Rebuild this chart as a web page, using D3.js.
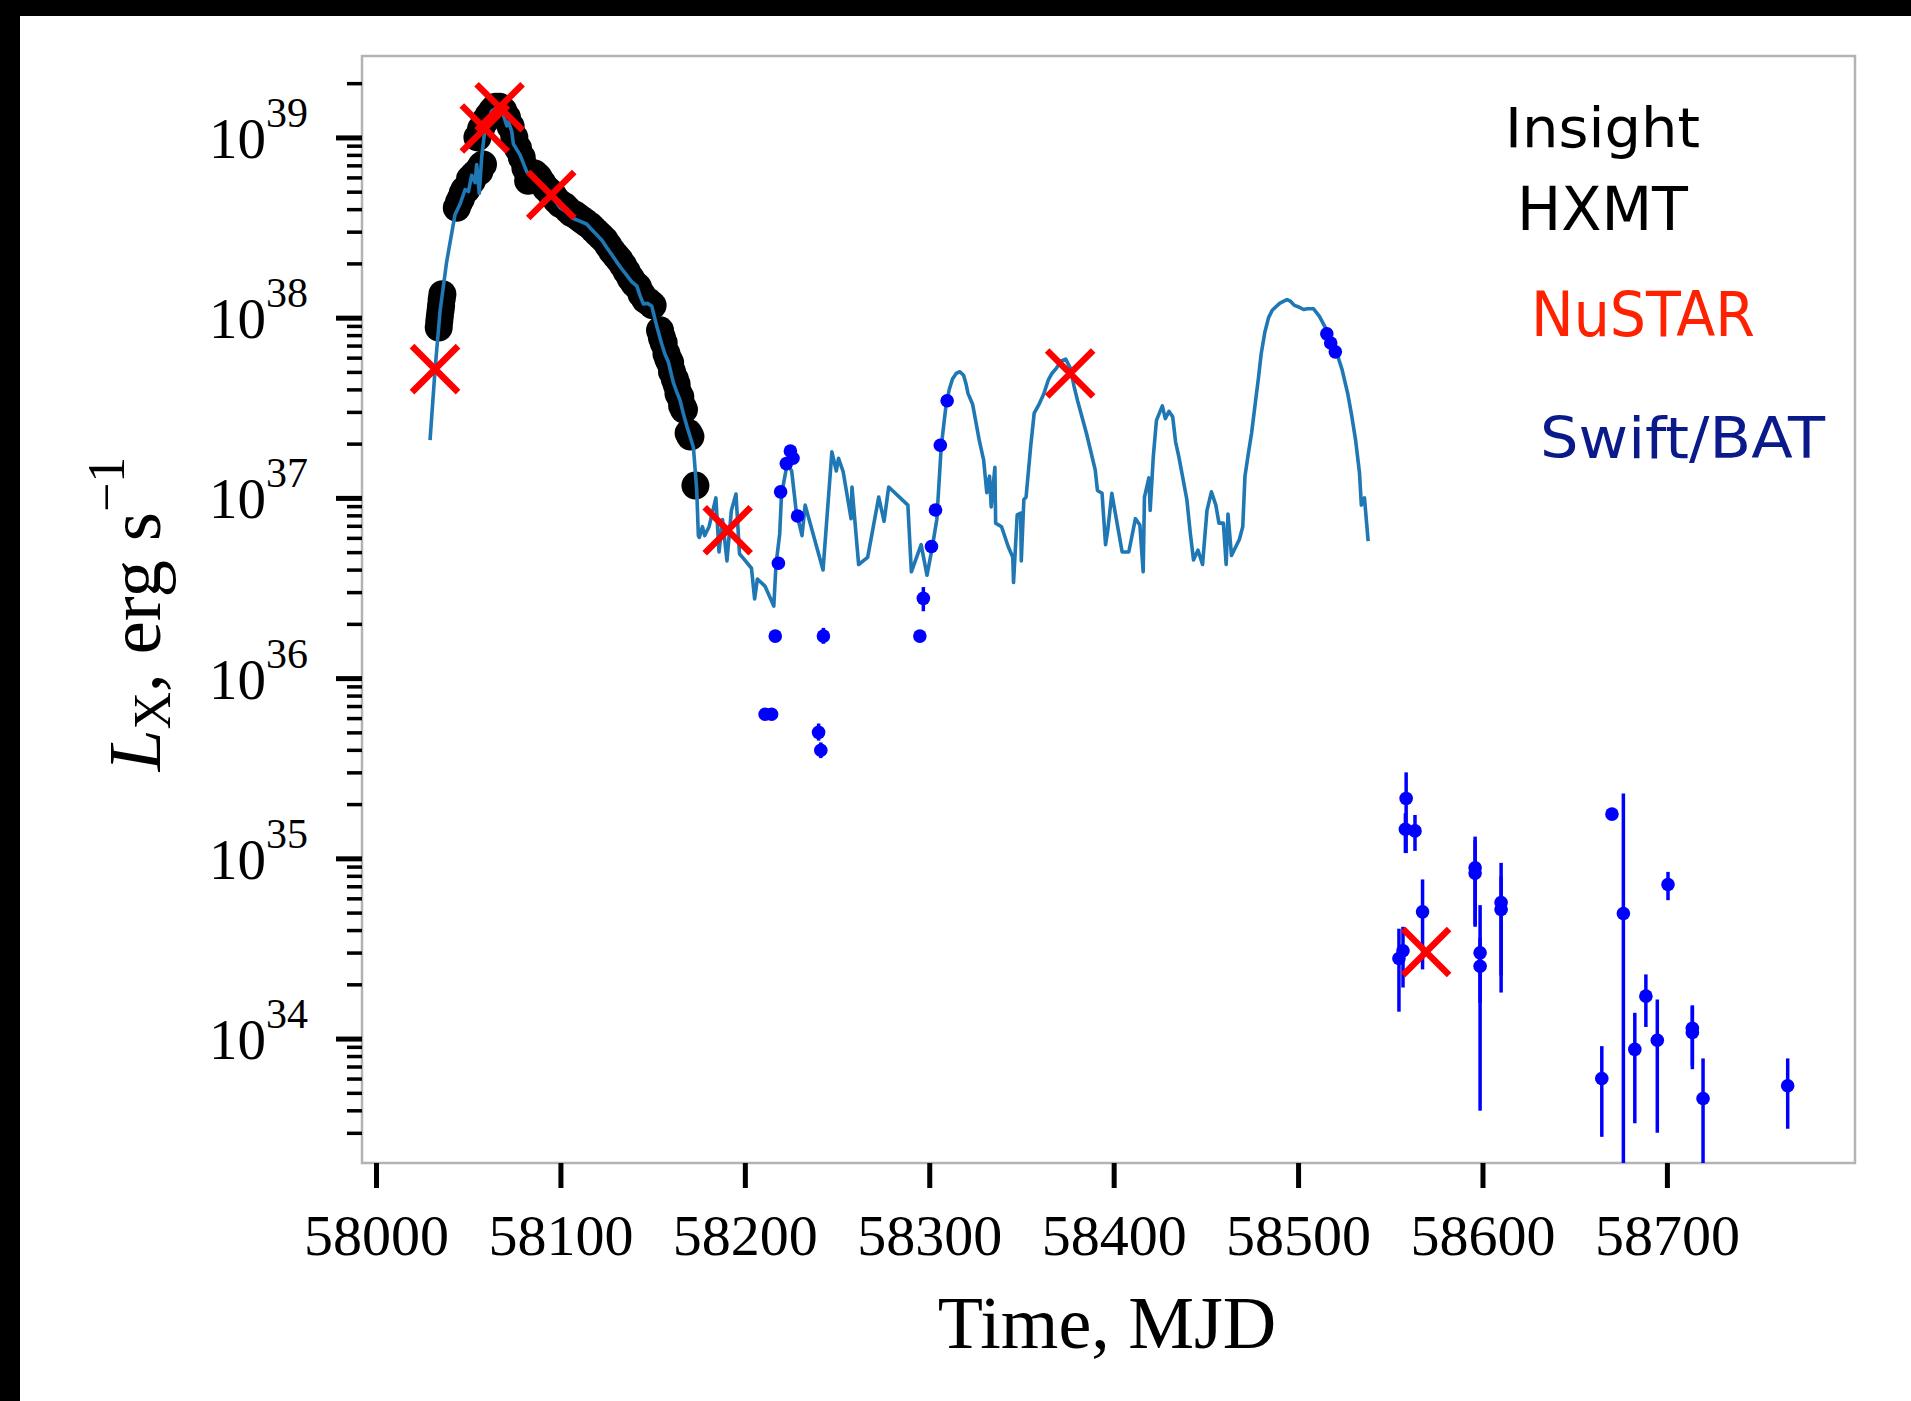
<!DOCTYPE html>
<html><head><meta charset="utf-8">
<script src="https://cdn.jsdelivr.net/npm/d3@7"></script>
<style>html,body{margin:0;padding:0;background:#fff;} svg{display:block;}</style>
</head><body><svg id="c" width="1911" height="1401"></svg>
<script>
// ---------------- DATA ----------------
const xTickValues = [58000, 58100, 58200, 58300, 58400, 58500, 58600, 58700];
const xTickLabels = ["58000", "58100", "58200", "58300", "58400", "58500", "58600", "58700"];
const yMajorTicks = [1e34, 1e35, 1e36, 1e37, 1e38, 1e39];
const yTickBase = "10";
const yTickExponents = ["34", "35", "36", "37", "38", "39"];

// light curve (blue line)
const lineMJD = [58029.3,58032.0,58034.7,58038.3,58042.8,58045.6,58048.3,58050.1,58051.9,58053.7,
58054.6,58056.0,58057.3,58059.1,58062.7,58065.4,58069.1,58070.9,58071.8,58073.6,
58074.5,58078.1,58081.7,58084.4,58088.9,58094.4,58099.8,58103.5,58107.0,58110.5,
58114.2,58116.8,58119.7,58122.5,58125.1,58127.8,58130.5,58133.0,58135.9,58138.7,
58141.4,58143.2,58145.0,58147.2,58149.5,58152.2,58154.9,58156.6,58158.5,58161.2,
58163.0,58164.9,58166.6,58168.5,58172.1,58173.0,58173.9,58174.8,58175.3,58177.0,
58178.2,58180.6,58184.3,58186.0,58187.9,58190.3,58192.7,58195.2,58197.1,58200.0,
58203.6,58205.3,58206.8,58210.9,58215.7,58216.9,58218.9,58219.9,58223.0,58225.4,
58227.8,58231.0,58232.7,58242.4,58247.2,58249.6,58250.8,58253.3,58257.6,58258.1,
58261.7,58266.6,58272.6,58275.5,58278.0,58288.4,58290.3,58295.6,58298.8,58301.7,
58304.1,58306.5,58309.0,58310.8,58312.6,58314.6,58316.6,58318.6,58320.0,58321.0,
58323.5,58327.1,58329.5,58331.2,58332.7,58333.6,58335.6,58336.0,58339.2,58342.8,
58345.3,58345.7,58347.7,58349.6,58349.9,58351.3,58352.5,58355.0,58356.9,58359.3,
58362.2,58364.6,58366.5,58369.0,58371.5,58374.0,58376.5,58378.5,58380.4,58385.2,
58390.0,58391.2,58393.7,58395.6,58396.8,58399.0,58404.6,58408.2,58411.8,58414.2,
58416.0,58416.7,58419.1,58419.8,58421.5,58423.2,58426.4,58428.0,58430.0,58432.0,
58433.6,58435.3,58437.7,58439.7,58441.6,58443.3,58445.7,58448.2,58450.6,58453.0,
58455.4,58457.1,58459.5,58461.0,58462.0,58463.9,58468.2,58470.0,58471.2,58473.1,
58474.8,58477.2,58478.4,58480.0,58482.0,58484.0,58486.0,58488.0,58490.0,58492.0,
58494.0,58496.0,58498.0,58500.0,58503.0,58505.0,58508.4,58511.5,58515.6,58520.8,
58523.9,58527.0,58529.1,58531.2,58533.3,58534.3,58536.0,58538.0];
const lineLum = [2.09e37,5.13e37,1.08e38,2.04e38,3.72e38,4.27e38,5.13e38,5.01e38,6.17e38,5.62e38,
7.08e38,4.90e38,7.76e38,1.12e39,1.40e39,1.46e39,1.33e39,1.16e39,1.22e39,1.08e39,
9.2e38,8.0e38,6.46e38,6.17e38,5.62e38,4.90e38,4.07e38,3.85e38,3.55e38,3.43e38,
3.31e38,3.09e38,2.88e38,2.69e38,2.45e38,2.24e38,2.04e38,1.88e38,1.72e38,1.58e38,
1.50e38,1.32e38,1.19e38,1.20e38,1.16e38,9.0e37,7.16e37,6.31e37,5.69e37,4.37e37,
3.89e37,3.47e37,2.95e37,2.51e37,1.91e37,1.46e37,1.11e37,6.17e36,6.03e36,6.92e36,
6.17e36,6.92e36,1.0e37,5.01e36,7.59e36,4.47e36,8.51e36,1.05e37,4.90e36,4.52e36,
4.07e36,2.75e36,3.55e36,3.24e36,2.51e36,4.27e36,6.31e36,1.05e37,1.55e37,1.41e37,
8.51e36,6.17e36,9.12e36,3.98e36,1.80e37,1.41e37,1.66e37,1.40e37,7.67e36,1.15e37,
4.27e36,4.68e36,1.01e37,7.41e36,1.15e37,9.12e36,3.89e36,5.50e36,3.72e36,5.37e36,
7.59e36,1.93e37,3.20e37,3.98e37,4.57e37,4.90e37,5.01e37,4.79e37,4.27e37,3.80e37,
3.31e37,2.09e37,1.62e37,1.07e37,1.32e37,8.91e36,1.48e37,7.24e36,6.92e36,5.37e36,
4.68e36,3.39e36,8.04e36,8.22e36,4.47e36,9.77e36,1.01e37,1.93e37,2.95e37,3.27e37,
3.80e37,4.52e37,4.90e37,5.25e37,5.75e37,5.89e37,5.25e37,4.17e37,3.47e37,2.29e37,
1.43e37,1.10e37,1.06e37,5.50e36,6.61e36,1.06e37,5.01e36,5.01e36,7.67e36,7.08e36,
3.89e36,1.01e37,1.29e37,8.51e36,1.70e37,2.69e37,3.24e37,2.75e37,3.02e37,2.82e37,
2.04e37,1.70e37,1.26e37,9.77e36,6.31e36,4.52e36,5.13e36,4.27e36,8.51e36,1.08e37,
9.12e36,7.24e36,7.24e36,4.27e36,8.13e36,4.79e36,5.89e36,6.92e36,1.32e37,1.78e37,
2.29e37,3.63e37,4.52e37,6.31e37,8.32e37,1.0e38,1.10e38,1.15e38,1.20e38,1.23e38,
1.26e38,1.23e38,1.17e38,1.15e38,1.11e38,1.12e38,1.12e38,1.02e38,8.51e37,6.46e37,
5.13e37,3.76e37,2.85e37,2.09e37,1.38e37,9.12e36,1.0e37,5.75e36];

// Insight-HXMT (black circles)
const insightMJD = [58034.0,58034.3,58034.6,58035.0,58035.3,58035.6,58036.0,
58043.8,58045,58046,58047,58048,58049,58050,58051,58052,58053,58054,58055,58056,58057,58058,
58055,58057,58059,58061,58063,58065,58067,58069,58071,58073,58075,58077,58079,58081,58082.5,58084,
58086,58088,58090,58092,58094,58096,58098,58100,58102,58104,58106,58108,58110,58112,58114,58116,
58118,58120,58122,58124,58126,58128,58130,58132,58134,58136,58138,58140,58142,58144,58146,58148,58150,
58154,58155,58156,58157.5,58158.5,58159.5,58160.5,58162,58163,58164,58165,58166,58167,58169.5,58170.5,58173.2];
const insightLum = [8.81e37,9.55e37,1.02e38,1.10e38,1.17e38,1.26e38,1.35e38,
4.07e38,4.37e38,4.57e38,4.90e38,5.13e38,5.13e38,5.37e38,5.89e38,5.75e38,6.17e38,6.31e38,6.46e38,6.46e38,6.92e38,7.08e38,
1.0e39,1.12e39,1.23e39,1.32e39,1.41e39,1.48e39,1.48e39,1.41e39,1.29e39,1.15e39,1.0e39,8.71e38,7.76e38,6.76e38,5.75e38,6.17e38,
6.31e38,6.03e38,5.62e38,5.25e38,5.01e38,4.79e38,4.47e38,4.27e38,4.17e38,3.98e38,3.80e38,3.72e38,3.59e38,3.47e38,3.35e38,3.24e38,
3.09e38,2.95e38,2.82e38,2.69e38,2.51e38,2.34e38,2.21e38,2.09e38,1.95e38,1.80e38,1.66e38,1.55e38,1.48e38,1.35e38,1.26e38,1.22e38,1.17e38,
8.51e37,7.76e37,7.24e37,6.31e37,5.89e37,5.62e37,5.01e37,4.57e37,4.27e37,3.80e37,3.63e37,3.24e37,3.09e37,2.29e37,2.19e37,1.17e37];

// NuSTAR (red crosses)
const nustarMJD = [58032.0, 58059.0, 58067.0, 58095.0, 58190.7, 58376.4, 58569.4];
const nustarLum = [5.18e37, 1.12e39, 1.47e39, 4.79e38, 6.61e36, 4.9e37, 3.02e34];

// Swift/BAT (blue points with error bars)
const batMJD = [58211.0,58214.5,58216.5,58218.2,58219.4,58222.5,58224.7,58226.1,58228.6,
58240.0,58241.2,58242.6,58294.9,58296.8,58301.2,58303.4,58306.0,58309.7,
58515.6,58517.7,58520.2,
58554.7,58556.9,58558.6,58558.2,58563.4,58567.5,58596.0,58596.0,58598.7,58598.7,58610.1,58610.1,
58664.7,58670.2,58676.4,58682.6,58688.6,58694.8,58700.6,58713.8,58713.8,58719.6,58765.5];
const batLum = [6.3e35,6.3e35,1.71e36,4.34e36,1.08e37,1.55e37,1.82e37,1.66e37,7.94e36,
5.0e35,3.98e35,1.71e36,1.71e36,2.77e36,5.37e36,8.57e36,1.96e37,3.46e37,
8.13e37,7.24e37,6.46e37,
2.78e34,3.07e34,2.15e35,1.45e35,1.42e35,5.05e34,8.87e34,8.28e34,2.99e34,2.52e34,5.69e34,5.2e34,
6.0e33,1.76e35,4.94e34,8.71e33,1.72e34,9.79e33,7.16e34,1.14e34,1.08e34,4.65e33,5.47e33];
const batLo = [6.0e35,6.0e35,1.6e36,4.2e36,1.05e37,1.5e37,1.77e37,1.61e37,7.7e36,
4.5e35,3.6e35,1.55e36,1.6e36,2.35e36,5.2e36,8.3e36,1.9e37,3.36e37,
7.9e37,7.0e37,6.3e37,
1.41e34,1.92e34,1.07e35,1.07e35,1.10e35,2.42e34,4.27e34,4.17e34,3.98e33,1.58e34,1.80e34,2.24e34,
2.85e33,1.70e35,1.0e33,3.39e33,1.16e34,3.0e33,5.86e34,6.76e33,7.08e33,1.0e33,3.16e33];
const batHi = [6.6e35,6.6e35,1.82e36,4.5e36,1.11e37,1.6e37,1.87e37,1.71e37,8.2e36,
5.6e35,4.4e35,1.9e36,1.82e36,3.2e36,5.55e36,8.85e36,2.02e37,3.56e37,
8.4e37,7.5e37,6.6e37,
4.07e34,4.17e34,3.0e35,1.78e35,1.74e35,7.64e34,1.32e35,1.26e35,5.5e34,3.63e34,9.44e34,7.94e34,
9.08e33,1.82e35,2.29e35,1.39e34,2.27e34,1.65e34,8.41e34,1.53e34,1.51e34,7.76e33,7.76e33];

const legendLabels = ["Insight", "HXMT", "NuSTAR", "Swift/BAT"];
const legendColors = ["#000000", "#000000", "#ff2200", "#0a1a8a"];

// ---------------- LAYOUT ----------------
const W = 1911, H = 1401;
const plot = {left: 362, right: 1855, top: 56, bottom: 1163};
const svg = d3.select("#c");

svg.append("rect").attr("x", 0).attr("y", 0).attr("width", W).attr("height", H).attr("fill", "#fff");
svg.append("rect").attr("x", 0).attr("y", 0).attr("width", W).attr("height", 16).attr("fill", "#000");
svg.append("rect").attr("x", 0).attr("y", 0).attr("width", 20).attr("height", H).attr("fill", "#000");

const x = d3.scaleLinear().domain([57992.4, 58802]).range([plot.left, plot.right]);
const y = d3.scaleLog().domain([2.04e33, 2.83e39]).range([plot.bottom, plot.top]);

svg.append("defs").append("clipPath").attr("id", "clip")
  .append("rect").attr("x", plot.left).attr("y", plot.top)
  .attr("width", plot.right - plot.left).attr("height", plot.bottom - plot.top);

// spines
svg.append("rect").attr("x", plot.left).attr("y", plot.top)
  .attr("width", plot.right - plot.left).attr("height", plot.bottom - plot.top)
  .attr("fill", "none").attr("stroke", "#b3b3b3").attr("stroke-width", 2.5);

const serif = "'Liberation Serif', 'Times New Roman', serif";

// y minor ticks
const yMinor = [];
for (let e = 33; e <= 39; e++) for (let m = 2; m <= 9; m++) {
  const v = m * Math.pow(10, e);
  if (v >= y.domain()[0] && v <= y.domain()[1]) yMinor.push(v);
}
const gyMinor = svg.append("g").attr("transform", `translate(${plot.left},0)`)
  .call(d3.axisLeft(y).tickValues(yMinor).tickSize(15).tickFormat(() => ""));
gyMinor.select(".domain").remove();
gyMinor.selectAll(".tick line").attr("stroke", "#000").attr("stroke-width", 3.5);

const gyMajor = svg.append("g").attr("transform", `translate(${plot.left},0)`)
  .call(d3.axisLeft(y).tickValues(yMajorTicks).tickSize(26).tickFormat(() => ""));
gyMajor.select(".domain").remove();
gyMajor.selectAll(".tick line").attr("stroke", "#000").attr("stroke-width", 5);
gyMajor.selectAll(".tick text").remove();
gyMajor.selectAll(".tick").each(function(d, i) {
  const t = d3.select(this).append("text")
    .attr("x", -54).attr("y", 20).attr("text-anchor", "end")
    .attr("font-family", serif).attr("fill", "#000");
  t.append("tspan").attr("font-size", 57).text(yTickBase);
  t.append("tspan").attr("font-size", 42).attr("dy", -31).text(yTickExponents[i]);
});

// x ticks
const gx = svg.append("g").attr("transform", `translate(0,${plot.bottom})`)
  .call(d3.axisBottom(x).tickValues(xTickValues).tickSize(25).tickFormat((d, i) => xTickLabels[i]));
gx.select(".domain").remove();
gx.selectAll(".tick line").attr("stroke", "#000").attr("stroke-width", 5);
gx.selectAll(".tick text").attr("y", 92).attr("dy", 0)
  .attr("font-family", serif).attr("font-size", 58).attr("fill", "#000");

// axis titles
svg.append("text").attr("x", 1107).attr("y", 1348).attr("text-anchor", "middle")
  .attr("font-family", serif).attr("font-size", 74).attr("fill", "#000").text("Time, MJD");

const yl = svg.append("text").attr("transform", "translate(160,614) rotate(-90)")
  .attr("text-anchor", "middle").attr("font-family", serif).attr("font-size", 75).attr("fill", "#000");
yl.append("tspan").attr("font-style", "italic").text("L");
yl.append("tspan").attr("font-size", 52).attr("dy", 10).text("X");
yl.append("tspan").attr("dy", -10).text(", erg s");
yl.append("tspan").attr("font-size", 52).attr("dy", -36).text("\u22121");

// ---------------- MARKS ----------------
const plotG = svg.append("g").attr("clip-path", "url(#clip)");

const insight = insightMJD.map((m, i) => ({m, v: insightLum[i]}));
plotG.append("g").selectAll("circle").data(insight).join("circle")
  .attr("cx", d => x(d.m)).attr("cy", d => y(d.v)).attr("r", 14).attr("fill", "#000");

const lc = lineMJD.map((m, i) => ({m, v: lineLum[i]}));
plotG.append("path").datum(lc)
  .attr("d", d3.line().x(d => x(d.m)).y(d => y(d.v)))
  .attr("fill", "none").attr("stroke", "#1f77b4").attr("stroke-width", 3.6).attr("stroke-linejoin", "round");

const bat = batMJD.map((m, i) => ({m, v: batLum[i], lo: batLo[i], hi: batHi[i]}));
plotG.append("g").selectAll("line").data(bat).join("line")
  .attr("x1", d => x(d.m)).attr("x2", d => x(d.m))
  .attr("y1", d => y(d.lo)).attr("y2", d => y(d.hi))
  .attr("stroke", "#0000ff").attr("stroke-width", 3.5);
plotG.append("g").selectAll("circle").data(bat).join("circle")
  .attr("cx", d => x(d.m)).attr("cy", d => y(d.v)).attr("r", 6.8).attr("fill", "#0000ff");

const nu = nustarMJD.map((m, i) => ({m, v: nustarLum[i]}));
const hs = 23;
plotG.append("g").selectAll("path").data(nu).join("path")
  .attr("d", d => {
    const cx = x(d.m), cy = y(d.v);
    return `M${cx - hs},${cy - hs}L${cx + hs},${cy + hs}M${cx - hs},${cy + hs}L${cx + hs},${cy - hs}`;
  })
  .attr("stroke", "#ff0000").attr("stroke-width", 6.5).attr("fill", "none");

// ---------------- LEGEND TEXT ----------------
const legPos = [
  {x: 1505, y: 147, w: 195, fs: 56},
  {x: 1517, y: 230, w: 171, fs: 60},
  {x: 1531, y: 336, w: 224, fs: 62},
  {x: 1540, y: 458, w: 285, fs: 57}
];
svg.append("g").selectAll("text").data(legendLabels).join("text")
  .attr("x", (d, i) => legPos[i].x).attr("y", (d, i) => legPos[i].y)
  .attr("font-family", "'Comic Sans MS', 'DejaVu Sans', sans-serif")
  .attr("font-size", (d, i) => legPos[i].fs)
  .attr("textLength", (d, i) => legPos[i].w).attr("lengthAdjust", "spacingAndGlyphs")
  .attr("fill", (d, i) => legendColors[i]).text(d => d);
</script>
</body></html>
